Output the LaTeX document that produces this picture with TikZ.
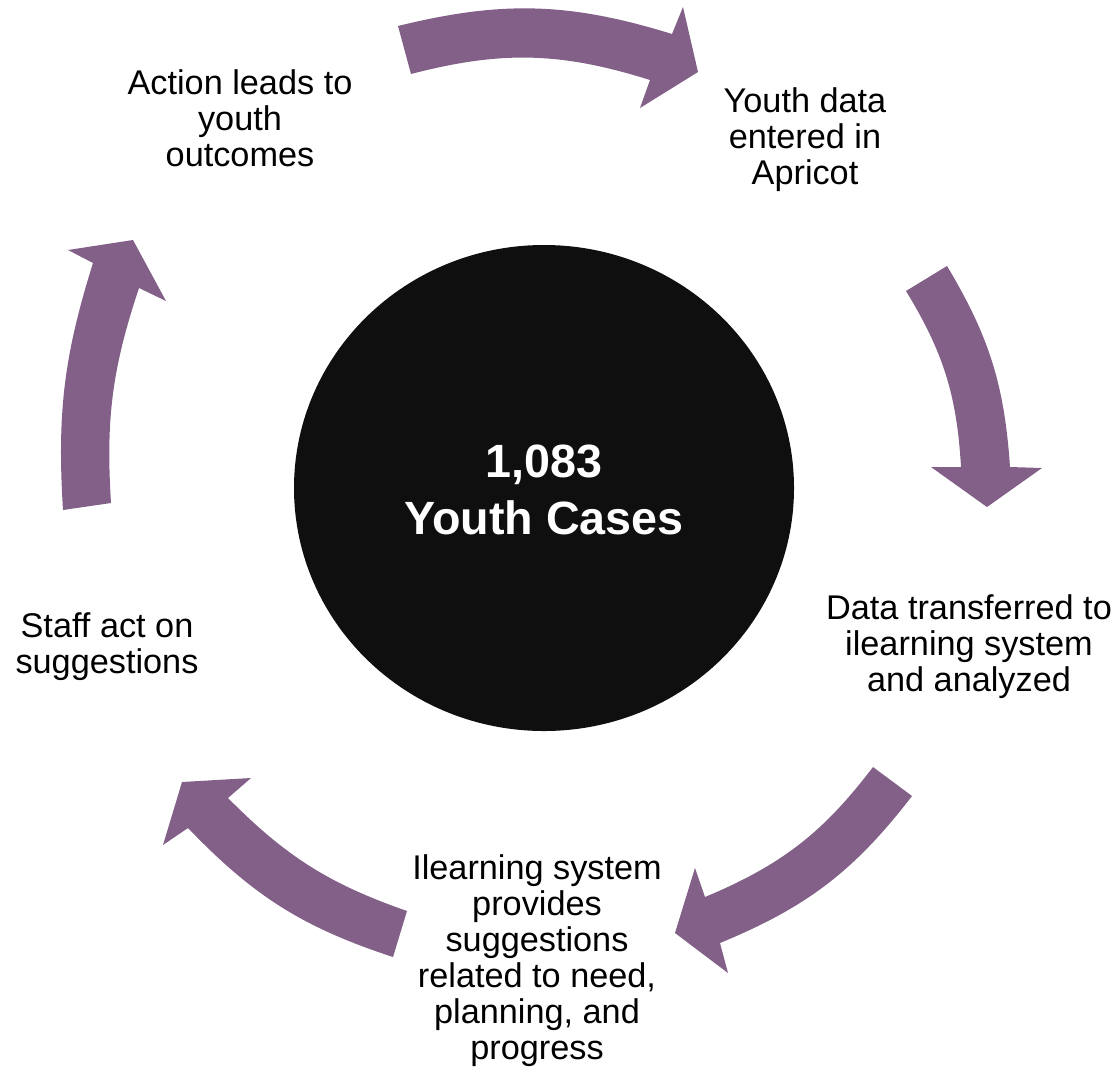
\documentclass[tikz,border=0pt]{standalone}
\usepackage{fontspec}
\setmainfont{Liberation Sans}
\definecolor{cyclepurple}{RGB}{131,96,136}
\definecolor{hubblack}{RGB}{15,15,15}
\begin{document}
\begin{tikzpicture}[x=0.75pt,y=-0.75pt,
  blockarrow/.style={fill=cyclepurple},
  steplabel/.style={align=center,inner sep=0pt,text=black,
    font=\fontsize{25.7pt}{27pt}\selectfont}]
\useasboundingbox (0,0) rectangle (1120,1068);

% central hub
\fill[hubblack] (544,488) ellipse [x radius=250, y radius=243];
\node[align=center,text=white,inner sep=0pt,
  font=\fontsize{35pt}{42.75pt}\selectfont\bfseries] (hub) at (544,490)
  {1,083\\Youth Cases};

% step labels
\node[steplabel] (s1) at (240,118) {Action leads to\\youth\\outcomes};
\node[steplabel] (s2) at (805,140) {Youth data\\entered in\\Apricot};
\node[steplabel] (s3) at (969,647) {Data transferred to\\ilearning system\\and analyzed};
\node[steplabel] (s4) at (537,961) {Ilearning system\\provides\\suggestions\\related to need,\\planning, and\\progress};
\node[steplabel] (s5) at (107,647) {Staff act on\\suggestions};

% curved block arrows of the cycle
\fill[blockarrow] (398,26) to[bend left=15.5] (672,34)
  -- (683,7) -- (698,72) -- (640,108) -- (650,80)
  to[bend right=16] (411,74) -- cycle;

\fill[blockarrow] (947,266) to[bend left=13.5] (1010,467)
  -- (1042,468) -- (987,507) -- (931,467) -- (961,467)
  to[bend right=14] (906,291) -- cycle;

\fill[blockarrow] (912,796) to[bend left=15] (720,943)
  -- (728,973) -- (675,933) -- (695,868) -- (705,897)
  to[bend right=15] (873,767) -- cycle;

\fill[blockarrow] (393,957) to[bend left=14] (188,828)
  -- (163,845) -- (182,782) -- (251,778) -- (228,798)
  to[bend right=13] (407,911) -- cycle;

\fill[blockarrow] (63,510) to[bend left=10.5] (93,263)
  -- (68,250) -- (133,240) -- (166,301) -- (139,288)
  to[bend right=11] (111,503) -- cycle;
\end{tikzpicture}
\end{document}
